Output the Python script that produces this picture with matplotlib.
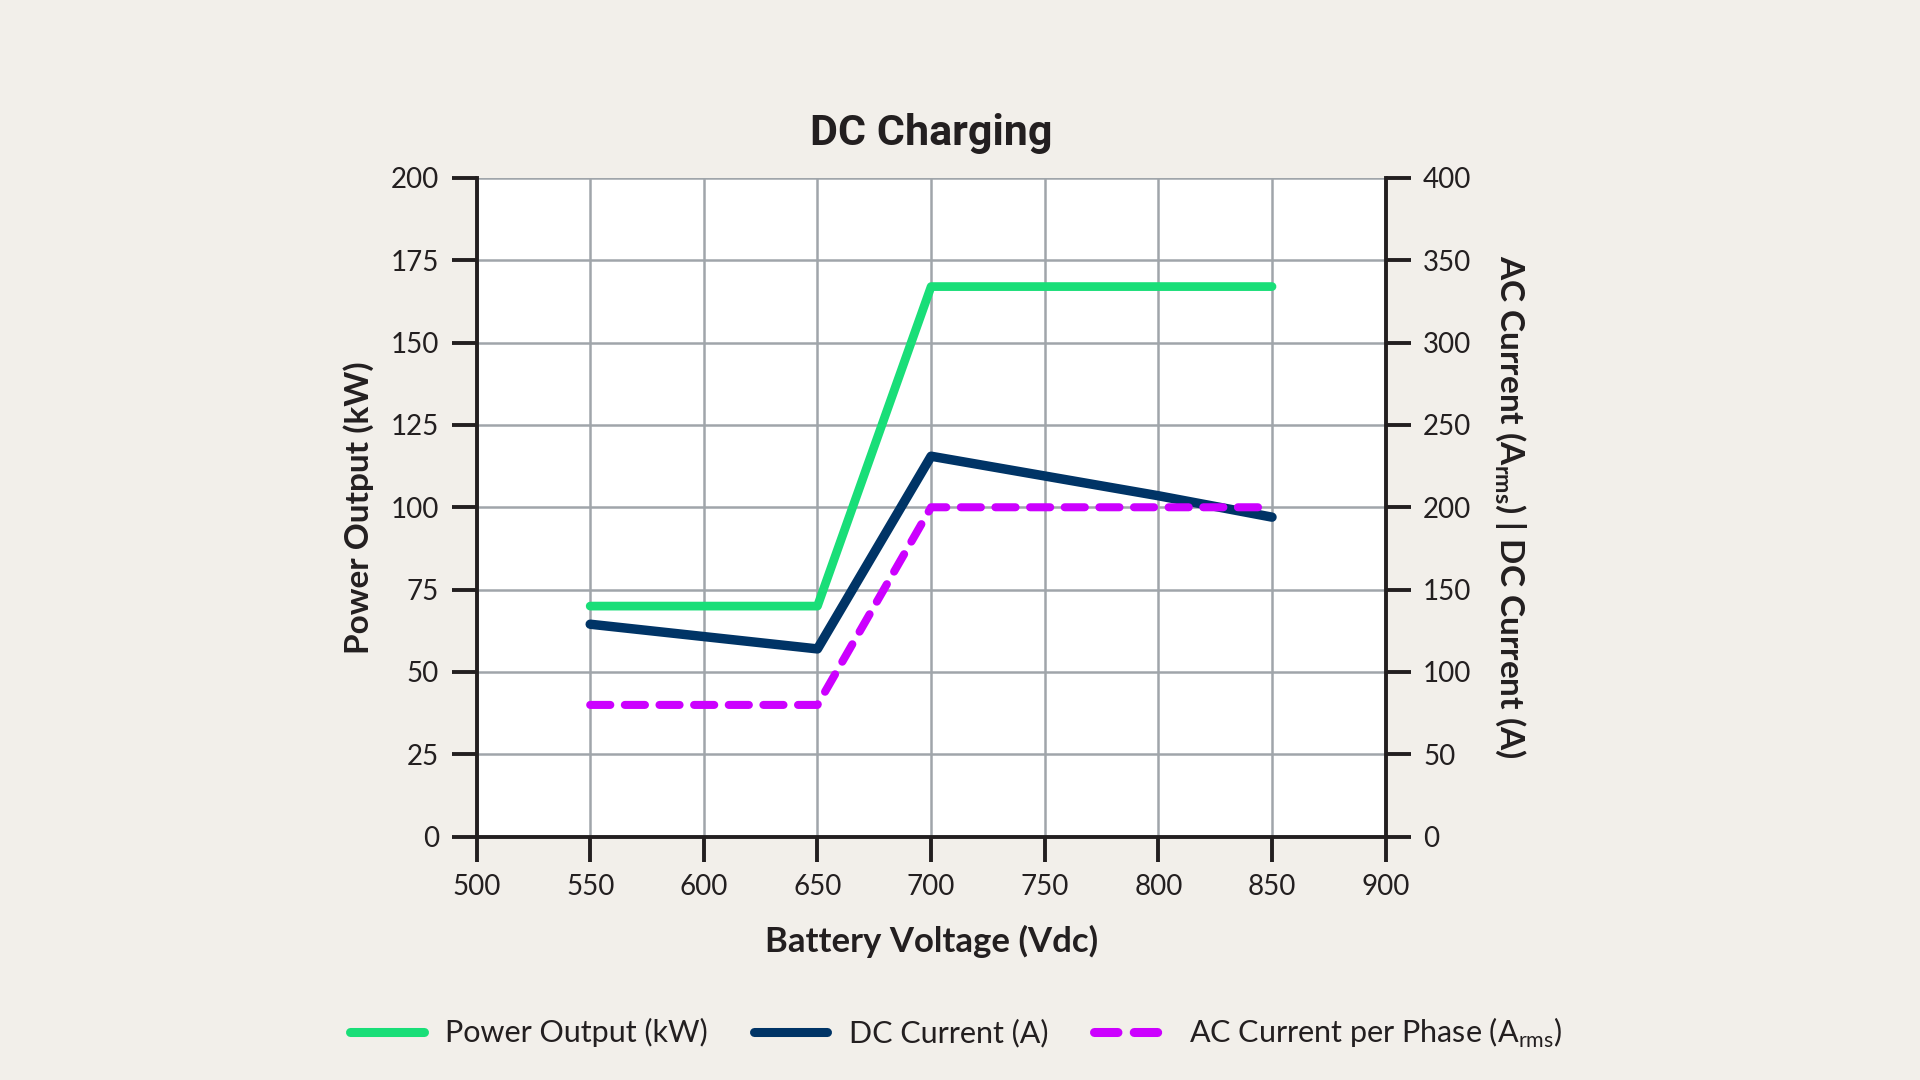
import matplotlib.pyplot as plt
from matplotlib.lines import Line2D

# Battery voltage (Vdc)
voltage = [550, 650, 700, 850]
power_kw = [70, 70, 167, 167]

dc_voltage = [550, 650, 700, 750, 800, 850]
dc_current = [129, 114, 231, 219, 207, 194]

ac_voltage = [550, 650, 700, 850]
ac_current = [80, 80, 200, 200]

x_ticks = [500, 550, 600, 650, 700, 750, 800, 850, 900]
left_ticks = [0, 25, 50, 75, 100, 125, 150, 175, 200]
right_ticks = [0, 50, 100, 150, 200, 250, 300, 350, 400]

green = '#19de78'
navy = '#003466'
magenta = '#cc00ff'
bg = '#f2efea'
ink = '#231f20'

plt.rcParams['font.family'] = ['Lato', 'DejaVu Sans']

fig = plt.figure(figsize=(19.2, 10.8), dpi=100, facecolor=bg)
ax = fig.add_axes([0.2482, 0.2253, 0.4735, 0.61])
ax.set_facecolor('white')
ax2 = ax.twinx()

# Grid
ax.set_axisbelow(True)
ax.grid(True, color='#a0a5aa', linewidth=1.8)

# Lines
ax.plot(voltage, power_kw, color=green, linewidth=6.3, solid_capstyle='round', zorder=3)
ax2.plot(dc_voltage, dc_current, color=navy, linewidth=6.8, solid_capstyle='round', zorder=3)
ax2.plot(ac_voltage, ac_current, color=magenta, linewidth=5.8, dashes=(2.5, 1.8),
         dash_capstyle='round', zorder=4)

ax.set_xlim(500, 900)
ax.set_ylim(0, 200)
ax2.set_ylim(0, 400)
ax.set_xticks(x_ticks)
ax.set_yticks(left_ticks)
ax2.set_yticks(right_ticks)

for a in (ax, ax2):
    for s in a.spines.values():
        s.set_linewidth(2.8)
        s.set_color(ink)
    a.tick_params(length=18, width=2.8, color=ink, labelsize=20, labelcolor=ink, pad=9)
    a.spines['top'].set_visible(False)
ax.spines['right'].set_visible(False)
ax2.spines['left'].set_visible(False)
ax2.spines['bottom'].set_visible(False)

ax.set_title('DC Charging', fontsize=31, fontweight='bold', color=ink, pad=24,
             family=['Roboto', 'DejaVu Sans'])
ax.set_xlabel('Battery Voltage (Vdc)', fontsize=25, fontweight='bold', color=ink, labelpad=18)
ax.set_ylabel('Power Output (kW)', fontsize=24, fontweight='bold', color=ink, labelpad=12)
ax2.set_ylabel(r'AC Current (A$_{\mathregular{rms}}$) | DC Current (A)', fontsize=24,
               fontweight='bold', color=ink, rotation=270, labelpad=40)

handles = [
    Line2D([], [], color=green, linewidth=6.5, solid_capstyle='round'),
    Line2D([], [], color=navy, linewidth=6.5, solid_capstyle='round'),
    Line2D([], [], color=magenta, linewidth=6.5, dashes=(2.6, 1.8), dash_capstyle='round'),
]
labels = ['Power Output (kW)', 'DC Current (A)', r'AC Current per Phase (A$_{\mathregular{rms}}$)']
fig.legend(handles, labels, loc='center', bbox_to_anchor=(0.498, 0.044), ncol=3,
           frameon=False, fontsize=22, handlelength=2.4, handletextpad=0.7,
           columnspacing=1.5, labelcolor=ink)

fig.savefig('out.png', dpi=100, facecolor=bg)
